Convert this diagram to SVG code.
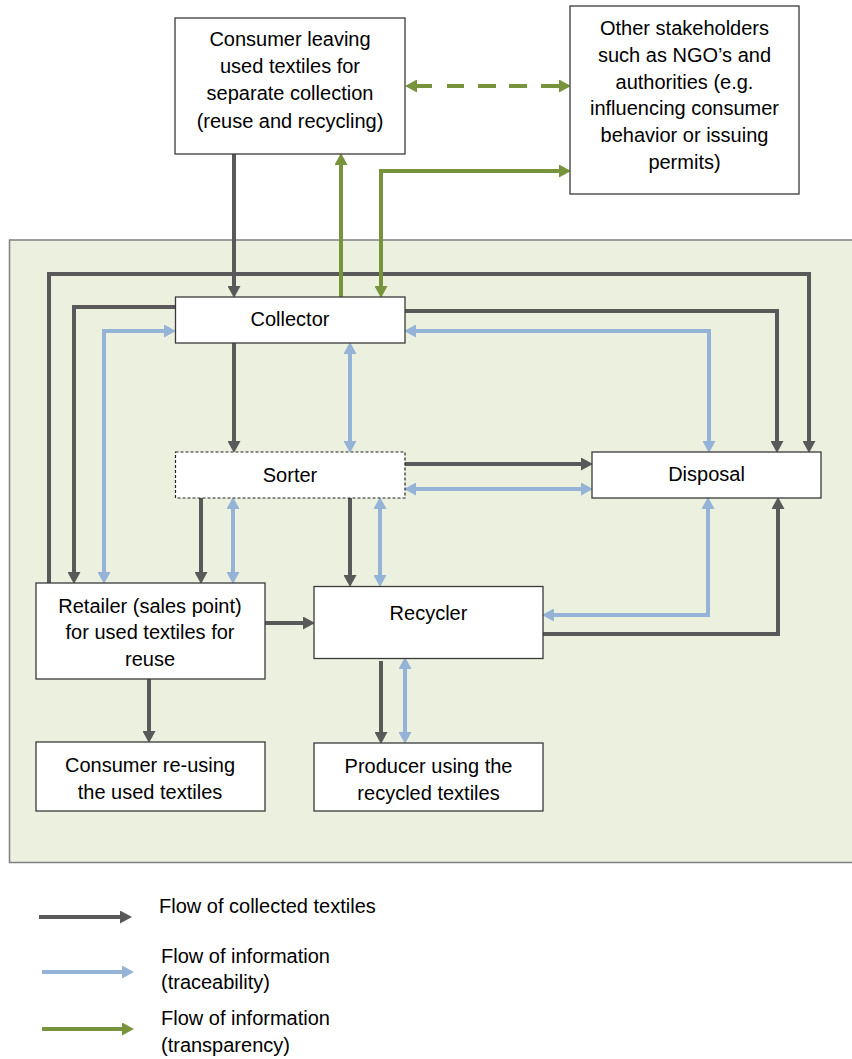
<svg xmlns="http://www.w3.org/2000/svg" width="852" height="1059" viewBox="0 0 852 1059">
<style>
  text { font-family: "Liberation Sans", Arial, sans-serif; font-size: 20px; fill: #000; text-anchor: middle; }
  .lg { text-anchor: start; }
  .box { fill: #fff; stroke: #3a3a3a; stroke-width: 1.3; }
  .dashbox { fill: #fff; stroke: #222; stroke-width: 1.2; stroke-dasharray: 3 2; }
  .d { fill: none; stroke: #595959; stroke-width: 4; }
  .b { fill: none; stroke: #95B3D7; stroke-width: 4; }
  .g { fill: none; stroke: #77933C; stroke-width: 4; }
</style>
<defs>
  <marker id="ad" markerUnits="userSpaceOnUse" markerWidth="13" markerHeight="13" refX="6" refY="6.5" orient="auto-start-reverse"><path d="M0,0 L12,6.5 L0,13 z" fill="#595959"/></marker>
  <marker id="ab" markerUnits="userSpaceOnUse" markerWidth="13" markerHeight="13" refX="6" refY="6.5" orient="auto-start-reverse"><path d="M0,0 L12,6.5 L0,13 z" fill="#95B3D7"/></marker>
  <marker id="ag" markerUnits="userSpaceOnUse" markerWidth="13" markerHeight="13" refX="6" refY="6.5" orient="auto-start-reverse"><path d="M0,0 L12,6.5 L0,13 z" fill="#77933C"/></marker>
</defs>

<rect id="panel" x="9.5" y="240" width="860" height="622.5" fill="#EBF1DE" stroke="#7F7F7F" stroke-width="1.5"/>

<g id="connectors">
  <path class="d" d="M234,154 V292" marker-end="url(#ad)"/>
  <path class="d" d="M49,583 V274 H809 V447" marker-end="url(#ad)"/>
  <path class="d" d="M176,307 H74 V578" marker-end="url(#ad)"/>
  <path class="d" d="M234,343 V447" marker-end="url(#ad)"/>
  <path class="d" d="M405,311 H777 V447" marker-end="url(#ad)"/>
  <path class="d" d="M405,464 H587" marker-end="url(#ad)"/>
  <path class="d" d="M201,498 V578" marker-end="url(#ad)"/>
  <path class="d" d="M350,498 V581" marker-end="url(#ad)"/>
  <path class="d" d="M265,623 H309" marker-end="url(#ad)"/>
  <path class="d" d="M149,679 V737" marker-end="url(#ad)"/>
  <path class="d" d="M381,661 V738" marker-end="url(#ad)"/>
  <path class="d" d="M543,634 H778 V503" marker-end="url(#ad)"/>

  <path class="b" d="M104,578 V331 H170" marker-start="url(#ab)" marker-end="url(#ab)"/>
  <path class="b" d="M350,348 V447" marker-start="url(#ab)" marker-end="url(#ab)"/>
  <path class="b" d="M410,331 H709 V447" marker-start="url(#ab)" marker-end="url(#ab)"/>
  <path class="b" d="M410,489 H587" marker-start="url(#ab)" marker-end="url(#ab)"/>
  <path class="b" d="M233,503 V578" marker-start="url(#ab)" marker-end="url(#ab)"/>
  <path class="b" d="M380,503 V581" marker-start="url(#ab)" marker-end="url(#ab)"/>
  <path class="b" d="M548,615 H708 V503" marker-start="url(#ab)" marker-end="url(#ab)"/>
  <path class="b" d="M405,663 V738" marker-start="url(#ab)" marker-end="url(#ab)"/>

  <path class="g" d="M341,297 V159" marker-end="url(#ag)"/>
  <path class="g" d="M381,292 V171 H565" marker-start="url(#ag)" marker-end="url(#ag)"/>
  <path class="g" d="M411,86 H565" stroke-dasharray="21 15 17 14 18 13 18 14 40" marker-start="url(#ag)" marker-end="url(#ag)"/>
</g>

<g id="consumer-leaving">
  <rect class="box" x="175" y="18" width="230" height="136"/>
  <text x="290" y="46">Consumer leaving</text>
  <text x="290" y="73">used textiles for</text>
  <text x="290" y="100">separate collection</text>
  <text x="290" y="128">(reuse and recycling)</text>
</g>
<g id="stakeholders">
  <rect class="box" x="570" y="6" width="229" height="188"/>
  <text x="684.5" y="35">Other stakeholders</text>
  <text x="684.5" y="62">such as NGO’s and</text>
  <text x="684.5" y="89">authorities (e.g.</text>
  <text x="684.5" y="115">influencing consumer</text>
  <text x="684.5" y="142">behavior or issuing</text>
  <text x="684.5" y="169">permits)</text>
</g>
<g id="collector">
  <rect class="box" x="175.5" y="297" width="229.5" height="46"/>
  <text x="290" y="326">Collector</text>
</g>
<g id="sorter">
  <rect class="dashbox" x="175.5" y="452" width="229.5" height="46"/>
  <text x="290" y="482">Sorter</text>
</g>
<g id="disposal">
  <rect class="box" x="592" y="452" width="229" height="46"/>
  <text x="706.5" y="481">Disposal</text>
</g>
<g id="retailer">
  <rect class="box" x="36" y="583" width="229" height="96"/>
  <text x="150" y="613">Retailer (sales point)</text>
  <text x="150" y="639">for used textiles for</text>
  <text x="150" y="666">reuse</text>
</g>
<g id="recycler">
  <rect class="box" x="314" y="586.5" width="229" height="72"/>
  <text x="428.5" y="620">Recycler</text>
</g>
<g id="consumer-reusing">
  <rect class="box" x="36" y="742" width="229" height="69"/>
  <text x="150" y="772">Consumer re-using</text>
  <text x="150" y="799">the used textiles</text>
</g>
<g id="producer">
  <rect class="box" x="314" y="743" width="229" height="68"/>
  <text x="428.5" y="773">Producer using the</text>
  <text x="428.5" y="800">recycled textiles</text>
</g>

<g id="legend">
  <path class="d" d="M39,917 H126" marker-end="url(#ad)"/>
  <text class="lg" x="159" y="913">Flow of collected textiles</text>
  <path class="b" d="M42,972 H128" marker-end="url(#ab)"/>
  <text class="lg" x="161" y="963">Flow of information</text>
  <text class="lg" x="161" y="989">(traceability)</text>
  <path class="g" d="M42,1029 H128" marker-end="url(#ag)"/>
  <text class="lg" x="161" y="1025">Flow of information</text>
  <text class="lg" x="161" y="1052">(transparency)</text>
</g>
</svg>
